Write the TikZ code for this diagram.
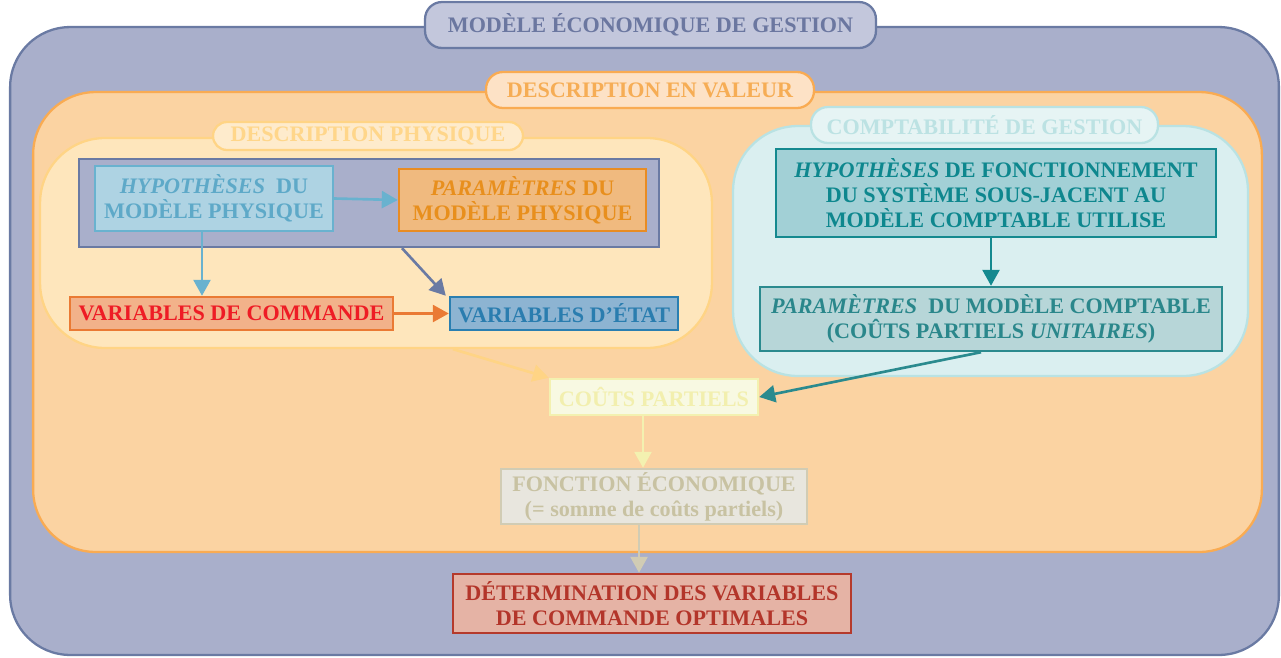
\documentclass[tikz,border=0pt]{standalone}
\usepackage{fontspec}
\setmainfont{Liberation Serif}
\usetikzlibrary{arrows.meta}

\definecolor{gbord}{HTML}{6A7AA3}
\definecolor{gfill}{HTML}{A9AFCB}
\definecolor{gtag}{HTML}{C3C7DC}
\definecolor{gtext}{HTML}{6B77A0}
\definecolor{ofill}{HTML}{FBD3A2}
\definecolor{obord}{HTML}{F9AB52}
\definecolor{otag}{HTML}{FDE2C6}
\definecolor{otext}{HTML}{F6AD55}
\definecolor{yfill}{HTML}{FEE6BC}
\definecolor{ybord}{HTML}{FFD485}
\definecolor{ytag}{HTML}{FEEBCC}
\definecolor{ytext}{HTML}{FFD68A}
\definecolor{cfill}{HTML}{DAEFF0}
\definecolor{cbord}{HTML}{B9E2E3}
\definecolor{ctag}{HTML}{E6F4F4}
\definecolor{ctext}{HTML}{BCE2E3}
\definecolor{hpfill}{HTML}{AED3E3}
\definecolor{hpbord}{HTML}{69B2CF}
\definecolor{hptext}{HTML}{5EA9C8}
\definecolor{ppfill}{HTML}{F0BA7F}
\definecolor{ppbord}{HTML}{E88C23}
\definecolor{pptext}{HTML}{E88F1D}
\definecolor{vcfill}{HTML}{F2B28A}
\definecolor{vcbord}{HTML}{EA7A34}
\definecolor{vctext}{HTML}{EE1C25}
\definecolor{vefill}{HTML}{8DB4D2}
\definecolor{vebord}{HTML}{2A7FB1}
\definecolor{vetext}{HTML}{2A7DAF}
\definecolor{hcfill}{HTML}{A2D0D6}
\definecolor{hcbord}{HTML}{14898F}
\definecolor{hctext}{HTML}{0E878E}
\definecolor{pcfill}{HTML}{B7D6D8}
\definecolor{pcbord}{HTML}{2A8A8E}
\definecolor{pctext}{HTML}{2A878B}
\definecolor{cpfill}{HTML}{F8F9E2}
\definecolor{cpbord}{HTML}{F3F1B0}
\definecolor{cptext}{HTML}{F2EFAE}
\definecolor{fefill}{HTML}{E8E6DE}
\definecolor{febord}{HTML}{D1CCB4}
\definecolor{fetext}{HTML}{C8C2A2}
\definecolor{dtfill}{HTML}{E5B3A5}
\definecolor{dtbord}{HTML}{B53A2C}
\definecolor{dttext}{HTML}{B3352A}

\begin{document}
\begin{tikzpicture}[x=0.02cm, y=-0.02cm,
    every node/.style={font=\fontsize{12.6}{14.3}\selectfont\bfseries},
    frame/.style={draw, line width=1.3pt, inner sep=0pt},
    tag/.style={draw, line width=1.3pt, inner sep=0pt, rounded corners=0.34cm},
    box/.style={draw, line width=1.4pt, align=center, inner sep=1pt},
    arr/.style={line width=1.5pt, -{Triangle[length=0.32cm, width=0.34cm]}}]
        \useasboundingbox (0,0) rectangle (1281,657);

        % frames
        \node (eco) [frame, draw=gbord, fill=gfill, rounded corners=1.2cm,
            minimum width=25.38cm, minimum height=12.56cm] at (644.5,341) {};
        \node (val) [frame, draw=obord, fill=ofill, rounded corners=1.25cm,
            minimum width=24.58cm, minimum height=9.2cm] at (647.5,322) {};
        \node (phys) [frame, draw=ybord, fill=yfill, rounded corners=1.3cm,
            minimum width=13.44cm, minimum height=4.2cm] at (376,243) {};
        \node (compta) [frame, draw=cbord, fill=cfill, rounded corners=1.3cm,
            minimum width=10.3cm, minimum height=5cm] at (990.5,251) {};
        \node (physin) [frame, draw=gbord, fill=gfill,
            minimum width=11.6cm, minimum height=1.76cm] at (369,203) {};

        % tags
        \node (teco) [tag, draw=gbord, fill=gtag, text=gtext,
            minimum width=9.02cm, minimum height=0.92cm] at (650.5,25) {MODÈLE ÉCONOMIQUE DE GESTION};
        \node (tval) [tag, draw=obord, fill=otag, text=otext,
            minimum width=6.56cm, minimum height=0.72cm] at (650,90) {DESCRIPTION EN VALEUR};
        \node (tphys) [tag, draw=ybord, fill=ytag, text=ytext, rounded corners=0.28cm,
            minimum width=6.2cm, minimum height=0.56cm] at (368,136) {DESCRIPTION PHYSIQUE};
        \node (tcompta) [tag, draw=cbord, fill=ctag, text=ctext,
            minimum width=6.94cm, minimum height=0.72cm] at (984.5,125) {COMPTABILITÉ DE GESTION};

        % boxes
        \node (hp) [box, draw=hpbord, fill=hpfill, text=hptext,
            minimum width=4.76cm, minimum height=1.3cm] at (214,198.5) {\textit{HYPOTHÈSES}~ DU\\MODÈLE PHYSIQUE};
        \node (pp) [box, draw=ppbord, fill=ppfill, text=pptext,
            minimum width=4.94cm, minimum height=1.24cm] at (522.5,200) {\textit{PARAMÈTRES} DU\\MODÈLE PHYSIQUE};
        \node (vdc) [box, draw=vcbord, fill=vcfill, text=vctext,
            minimum width=6.46cm, minimum height=0.66cm] at (231.5,313.5) {VARIABLES DE COMMANDE};
        \node (vde) [box, draw=vebord, fill=vefill, text=vetext,
            minimum width=4.56cm, minimum height=0.66cm] at (564,313.5) {VARIABLES D’ÉTAT};
        \node (hc) [box, draw=hcbord, fill=hcfill, text=hctext,
            minimum width=8.8cm, minimum height=1.76cm] at (996,193) {\textit{HYPOTHÈSES} DE FONCTIONNEMENT\\DU SYSTÈME SOUS-JACENT AU\\MODÈLE COMPTABLE UTILISE};
        \node (pc) [box, draw=pcbord, fill=pcfill, text=pctext,
            minimum width=9.24cm, minimum height=1.28cm] at (991,319) {\textit{PARAMÈTRES}~ DU MODÈLE COMPTABLE\\(COÛTS PARTIELS \textit{UNITAIRES})};
        \node (cp) [box, draw=cpbord, fill=cpfill, text=cptext,
            minimum width=4.16cm, minimum height=0.72cm] at (654,397) {COÛTS PARTIELS};
        \node (fe) [box, draw=febord, fill=fefill, text=fetext,
            minimum width=6.12cm, minimum height=1.1cm] at (654,496.5) {FONCTION ÉCONOMIQUE\\(= somme de coûts partiels)};
        \node (dt) [box, draw=dtbord, fill=dtfill, text=dttext,
            minimum width=7.96cm, minimum height=1.18cm] at (652,603.5) {DÉTERMINATION DES VARIABLES\\DE COMMANDE OPTIMALES};

        % edges
        \draw[arr, hpbord] (hp.east) -- (pp.west);
        \draw[arr, hpbord] ([xshift=-0.24cm]hp.south) -- ([xshift=-0.24cm]hp.south |- vdc.north);
        \draw[arr, gbord] ([xshift=0.66cm]physin.south) -- ([xshift=-0.06cm]vde.north west);
        \draw[arr, vcbord] (vdc.east) -- (vde.west);
        \draw[arr, hcbord] (hc.south -| pc.north) -- (pc.north);
        \draw[arr, pcbord] ([xshift=-0.2cm]pc.south) -- (cp.east);
        \draw[arr, ybord] ([xshift=1.54cm]phys.south) -- (cp.north west);
        \draw[arr, cpbord] ([xshift=-0.22cm]cp.south) -- ([xshift=-0.22cm]cp.south |- fe.north);
        \draw[arr, febord] ([xshift=-0.3cm]fe.south) -- ([xshift=-0.3cm]fe.south |- dt.north);
    \end{tikzpicture}
\end{document}
